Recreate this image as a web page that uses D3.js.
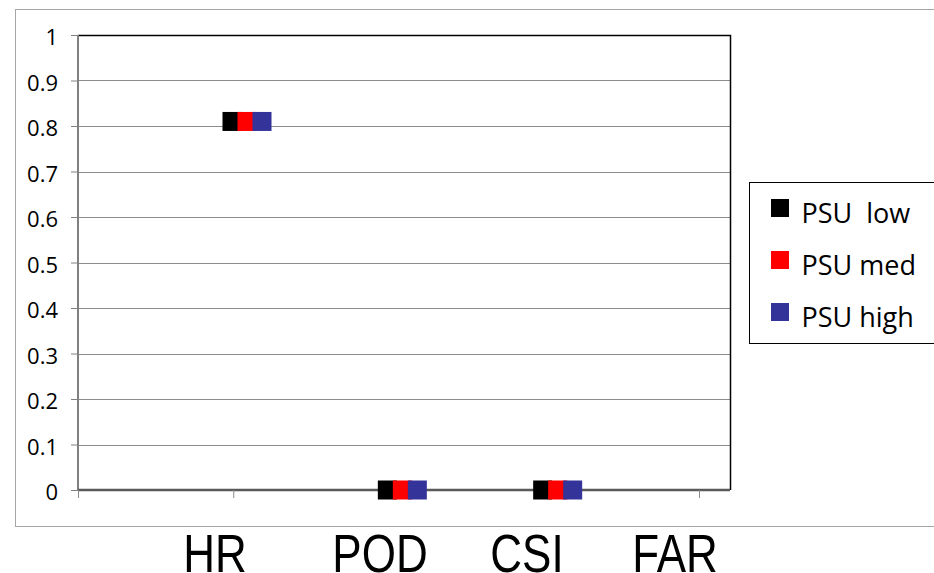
<!DOCTYPE html>
<html>
<head>
<meta charset="utf-8">
<script src="https://cdn.jsdelivr.net/npm/d3@7"></script>
<style>
  body { margin: 0; background: #fff; }
  svg { display: block; }
</style>
</head>
<body>
<svg id="chart" width="934" height="573"></svg>
<script>
// data
const categories = ['HR', 'POD', 'CSI', 'FAR']
const seriesNames = ['PSU  low', 'PSU med', 'PSU high']
const seriesColors = ['#000000', '#ff0000', '#333399']
const psuLow = [0.81, 0, 0, null]
const psuMed = [0.81, 0, 0, null]
const psuHigh = [0.81, 0, 0, null]
const yTicks = [0, 0.1, 0.2, 0.3, 0.4, 0.5, 0.6, 0.7, 0.8, 0.9, 1]
const yTickLabels = ['0', '0.1', '0.2', '0.3', '0.4', '0.5', '0.6', '0.7', '0.8', '0.9', '1']

const series = [psuLow, psuMed, psuHigh].map((values, i) => ({
  name: seriesNames[i],
  color: seriesColors[i],
  values,
}))

const svg = d3.select('#chart')
const plot = { left: 78, top: 35, right: 730, bottom: 490 }

// outer chart area border
svg.append('rect')
  .attr('x', 15.5).attr('y', 9.5)
  .attr('width', 940).attr('height', 517)
  .attr('fill', '#fff')
  .attr('stroke', '#a6a6a6')
  .attr('stroke-width', 1)

const y = d3.scaleLinear().domain([0, 1]).range([plot.bottom, plot.top])
// category ticks span 4 slots, markers sit a little right of slot centres
const xTick = d3.scaleLinear().domain([0, 4]).range([plot.left, 699])
const x = d3.scaleLinear().domain([0, 3]).range([247, 713])
const offset = d3.scalePoint().domain(d3.range(series.length)).range([-15, 15])

// gridlines
svg.append('g')
  .selectAll('line')
  .data(yTicks.filter(d => d > 0 && d < 1))
  .join('line')
  .attr('x1', plot.left).attr('x2', plot.right)
  .attr('y1', d => Math.round(y(d)) + 0.5).attr('y2', d => Math.round(y(d)) + 0.5)
  .attr('stroke', '#8c8c8c')

// plot frame (top/right black)
svg.append('path')
  .attr('d', `M${plot.left},${plot.top + 0.5}H${plot.right + 0.5}V${plot.bottom}`)
  .attr('fill', 'none')
  .attr('stroke', '#000')
  .attr('stroke-width', 1.5)

// y axis
const yAxis = svg.append('g').attr('transform', `translate(${plot.left},0)`)
  .call(d3.axisLeft(y).tickValues(yTicks).tickSize(7).tickPadding(13)
    .tickFormat((d, i) => yTickLabels[i]))
yAxis.select('.domain').attr('stroke', '#808080').attr('stroke-width', 2)
  .attr('d', `M0,${plot.top}V${plot.bottom}`)
yAxis.selectAll('.tick line').attr('stroke', '#808080')
yAxis.selectAll('.tick text')
  .attr('font-family', '"Open Sans", sans-serif')
  .attr('font-size', 22)
  .attr('dy', '0.45em')
  .attr('fill', '#000')

// x axis
const xAxis = svg.append('g').attr('transform', `translate(0,${plot.bottom})`)
  .call(d3.axisBottom(xTick).tickValues(d3.range(5)).tickSize(8).tickFormat(''))
xAxis.select('.domain').attr('stroke', '#595959').attr('stroke-width', 2.5)
  .attr('d', `M${plot.left},0H${plot.right}`)
xAxis.selectAll('.tick line').attr('stroke', '#8c8c8c')

// markers
const seriesG = svg.append('g')
  .selectAll('g')
  .data(series)
  .join('g')
  .attr('fill', d => d.color)
const size = 19
seriesG.selectAll('rect')
  .data((s, si) => s.values.map((v, i) => ({ v, i, si })).filter(d => d.v !== null))
  .join('rect')
  .attr('x', d => x(d.i) + offset(d.si) - size / 2)
  .attr('y', d => y(d.v) - size / 2)
  .attr('width', size)
  .attr('height', size)

// big category labels under the chart (text boxes, stretched a bit vertically)
const labelCenters = [215, 380, 527, 675]
svg.append('g')
  .selectAll('text')
  .data(categories)
  .join('text')
  .attr('transform', (d, i) => `translate(${labelCenters[i]},572) scale(1,1.22)`)
  .attr('text-anchor', 'middle')
  .attr('font-family', '"Liberation Sans", Arial, sans-serif')
  .attr('font-size', 44)
  .attr('fill', '#000')
  .text(d => d)

// legend
const legend = svg.append('g').attr('transform', 'translate(749.5,182.5)')
legend.append('rect')
  .attr('width', 190).attr('height', 161)
  .attr('fill', '#fff')
  .attr('stroke', '#000')
  .attr('stroke-width', 1)
const items = legend.selectAll('g.item')
  .data(series)
  .join('g')
  .attr('class', 'item')
  .attr('transform', (d, i) => `translate(0,${i * 52})`)
items.append('rect')
  .attr('x', 21.5).attr('y', 16.5)
  .attr('width', 18).attr('height', 18)
  .attr('fill', d => d.color)
items.append('text')
  .attr('x', 52)
  .attr('y', 40)
  .attr('font-family', '"Open Sans", sans-serif')
  .attr('font-size', 27)
  .attr('fill', '#000')
  .attr('xml:space', 'preserve')
  .style('white-space', 'pre')
  .text(d => d.name)
</script>
</body>
</html>
